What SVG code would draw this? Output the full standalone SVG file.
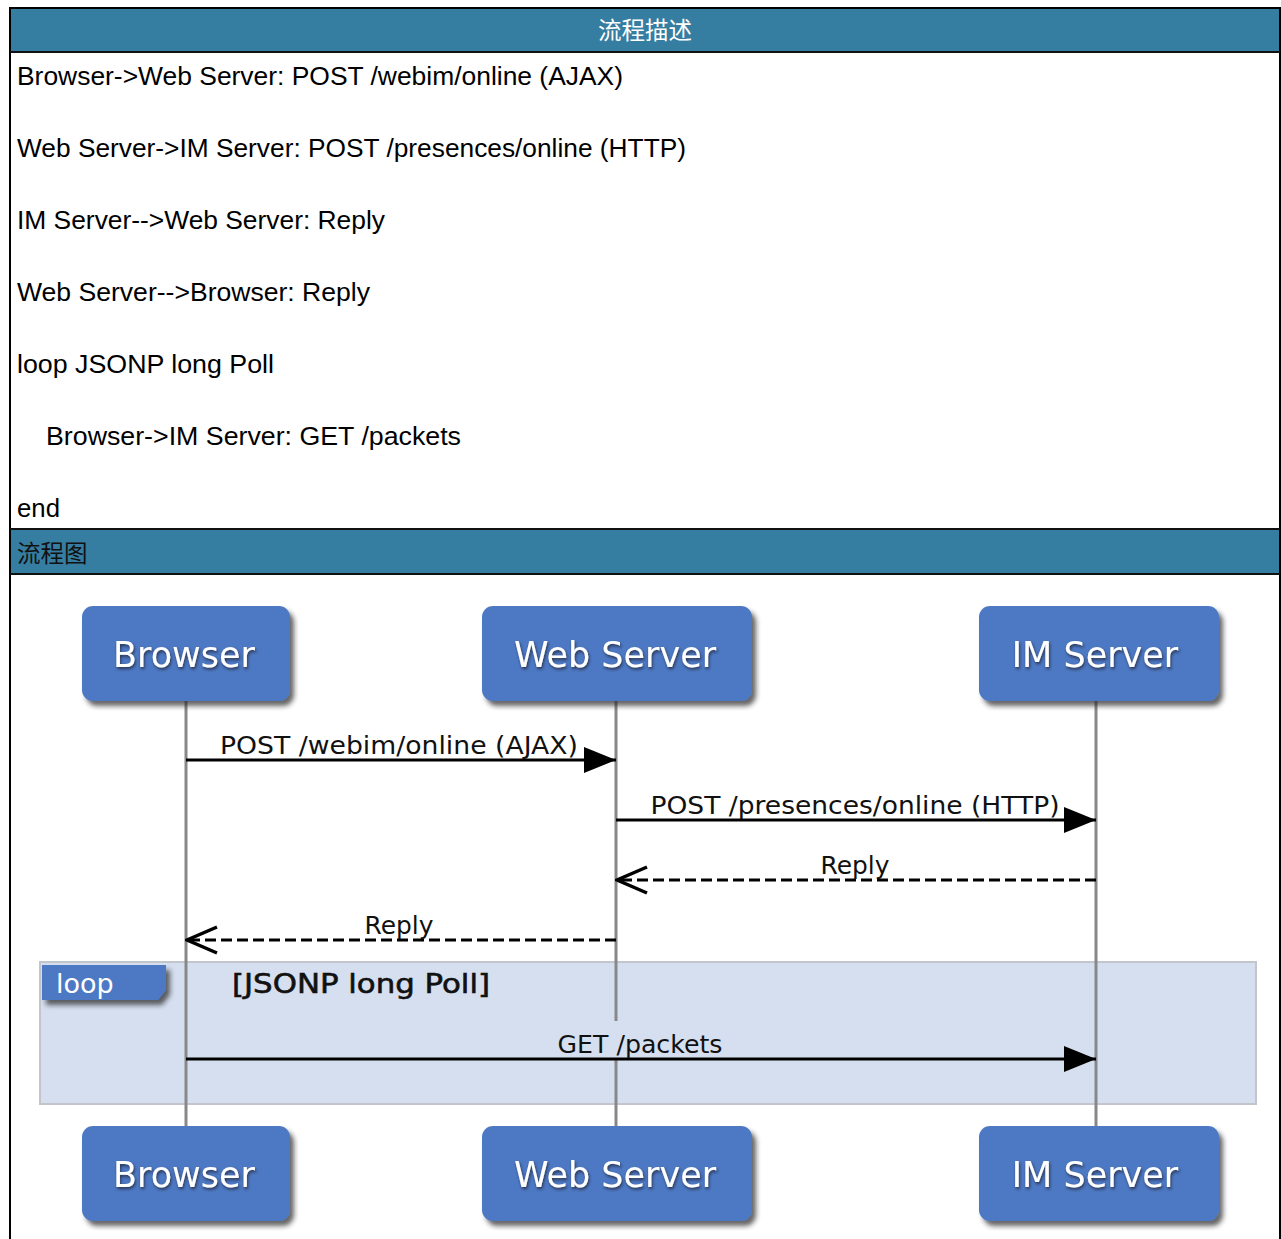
<svg xmlns="http://www.w3.org/2000/svg" width="1281" height="1239" viewBox="0 0 1281 1239">
<style>
.desc{font-family:"Liberation Sans",Arial,sans-serif;font-size:25px;fill:#000}
.hdr{font-family:"Noto Sans CJK SC","Liberation Sans",sans-serif;font-size:23.5px}
.actor rect{fill:#4d79c4}
.actor text{font-family:"DejaVu Sans",Verdana,sans-serif;font-size:35px;fill:#fff;text-anchor:middle}
.life{stroke:#888;stroke-width:3;fill:none}
.msg{stroke:#000;stroke-width:3;fill:none}
.dash{stroke-dasharray:11,5}
.lbl{font-family:"DejaVu Sans",Verdana,sans-serif;font-size:25px;fill:#111;text-anchor:middle}
</style>
<defs>
<filter id="sh" x="-10%" y="-10%" width="130%" height="140%">
<feDropShadow dx="4" dy="5" stdDeviation="2.5" flood-color="#222" flood-opacity="0.7"/>
</filter>
<filter id="tsh" x="-10%" y="-20%" width="120%" height="150%">
<feDropShadow dx="1" dy="2" stdDeviation="1.5" flood-color="#223" flood-opacity="0.8"/>
</filter>
<marker id="fill" viewBox="0 0 32 26" refX="32" refY="13" markerWidth="32" markerHeight="26" markerUnits="userSpaceOnUse" orient="auto">
<path d="M0,0 L32,13 L0,26 Z" fill="#000"/>
</marker>
<marker id="open" viewBox="0 0 34 30" refX="33" refY="15" markerWidth="34" markerHeight="30" markerUnits="userSpaceOnUse" orient="auto">
<path d="M2,2 L32,15 L2,28" fill="none" stroke="#000" stroke-width="3.5"/>
</marker>
</defs>
<rect x="0" y="0" width="1281" height="1239" fill="#fff"/>
<g id="table">
<rect x="10" y="8" width="1270" height="1240" fill="#fff" stroke="#000" stroke-width="2"/>
<rect x="11" y="9" width="1268" height="43" fill="#367da2"/>
<line x1="10" y1="52" x2="1280" y2="52" stroke="#111" stroke-width="2"/>
<text class="hdr" x="645" y="39" fill="#fff" text-anchor="middle">流程描述</text>
<text class="desc" x="17" y="85" textLength="606" lengthAdjust="spacingAndGlyphs">Browser-&gt;Web Server: POST /webim/online (AJAX)</text>
<text class="desc" x="17" y="157" textLength="669" lengthAdjust="spacingAndGlyphs">Web Server-&gt;IM Server: POST /presences/online (HTTP)</text>
<text class="desc" x="17" y="229" textLength="368" lengthAdjust="spacingAndGlyphs">IM Server--&gt;Web Server: Reply</text>
<text class="desc" x="17" y="301" textLength="353" lengthAdjust="spacingAndGlyphs">Web Server--&gt;Browser: Reply</text>
<text class="desc" x="17" y="373" textLength="257" lengthAdjust="spacingAndGlyphs">loop JSONP long Poll</text>
<text class="desc" x="46" y="445" textLength="415" lengthAdjust="spacingAndGlyphs">Browser-&gt;IM Server: GET /packets</text>
<text class="desc" x="17" y="517" textLength="43" lengthAdjust="spacingAndGlyphs">end</text>
<line x1="10" y1="529" x2="1280" y2="529" stroke="#111" stroke-width="2"/>
<rect x="11" y="530" width="1268" height="43" fill="#367da2"/>
<line x1="10" y1="574" x2="1280" y2="574" stroke="#111" stroke-width="2"/>
<text class="hdr" x="17" y="562" fill="#111" font-size="26">流程图</text>
</g>
<g id="loop">
<rect x="40" y="962" width="1216" height="142" fill="#d5dff0" stroke="#c2c6cc" stroke-width="2"/>
<path d="M42,965 L166,965 L166,990 L158,1000 L42,1000 Z" fill="#4d79c4" filter="url(#sh)"/>
<text x="56" y="993" font-family="DejaVu Sans,Verdana,sans-serif" font-size="27" fill="#fff">loop</text>
<text x="232" y="993" font-family="DejaVu Sans,Verdana,sans-serif" font-size="27" fill="#111" stroke="#111" stroke-width="0.6" textLength="258" lengthAdjust="spacingAndGlyphs">[JSONP long Poll]</text>
</g>
<g id="lifelines">
<line class="life" x1="186" y1="700" x2="186" y2="1128"/>
<line class="life" x1="616" y1="700" x2="616" y2="1021"/>
<line class="life" x1="616" y1="1058" x2="616" y2="1128"/>
<line class="life" x1="1096" y1="700" x2="1096" y2="1128"/>
</g>
<g id="connectors">
<line class="msg" x1="186" y1="760" x2="616" y2="760" marker-end="url(#fill)"/>
<text class="lbl" x="399" y="754" textLength="358" lengthAdjust="spacingAndGlyphs">POST /webim/online (AJAX)</text>
<line class="msg" x1="616" y1="820" x2="1096" y2="820" marker-end="url(#fill)"/>
<text class="lbl" x="855" y="814" textLength="409" lengthAdjust="spacingAndGlyphs">POST /presences/online (HTTP)</text>
<line class="msg dash" x1="1096" y1="880" x2="616" y2="880" marker-end="url(#open)"/>
<text class="lbl" x="855" y="874" textLength="69" lengthAdjust="spacingAndGlyphs">Reply</text>
<line class="msg dash" x1="616" y1="940" x2="186" y2="940" marker-end="url(#open)"/>
<text class="lbl" x="399" y="934" textLength="69" lengthAdjust="spacingAndGlyphs">Reply</text>
<line class="msg" x1="186" y1="1059" x2="1096" y2="1059" marker-end="url(#fill)"/>
<text class="lbl" x="640" y="1053" textLength="165" lengthAdjust="spacingAndGlyphs">GET /packets</text>
</g>
<g id="browser_top" class="actor">
<rect x="82" y="606" width="208" height="95" rx="11" filter="url(#sh)"/>
<text x="184" y="667" filter="url(#tsh)">Browser</text>
</g>
<g id="webserver_top" class="actor">
<rect x="482" y="606" width="270" height="95" rx="11" filter="url(#sh)"/>
<text x="615" y="667" filter="url(#tsh)">Web Server</text>
</g>
<g id="imserver_top" class="actor">
<rect x="979" y="606" width="240" height="95" rx="11" filter="url(#sh)"/>
<text x="1095" y="667" filter="url(#tsh)">IM Server</text>
</g>
<g id="browser_bottom" class="actor">
<rect x="82" y="1126" width="208" height="95" rx="11" filter="url(#sh)"/>
<text x="184" y="1187" filter="url(#tsh)">Browser</text>
</g>
<g id="webserver_bottom" class="actor">
<rect x="482" y="1126" width="270" height="95" rx="11" filter="url(#sh)"/>
<text x="615" y="1187" filter="url(#tsh)">Web Server</text>
</g>
<g id="imserver_bottom" class="actor">
<rect x="979" y="1126" width="240" height="95" rx="11" filter="url(#sh)"/>
<text x="1095" y="1187" filter="url(#tsh)">IM Server</text>
</g>
</svg>
